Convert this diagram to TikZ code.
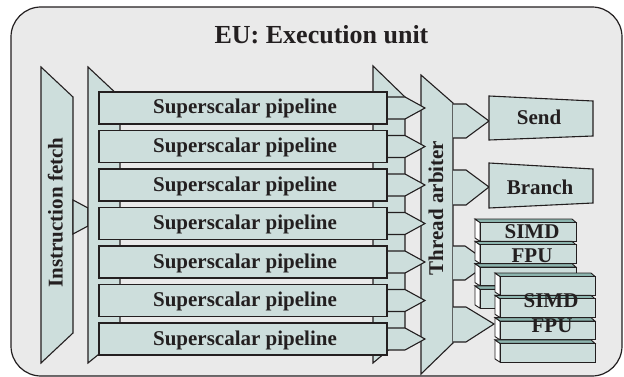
\documentclass[tikz,border=0pt]{standalone}
\usepackage{fontspec}
\setmainfont{Liberation Serif}
\definecolor{tealA}{HTML}{CDDEDC}
\definecolor{tealB}{HTML}{8CB4AE}
\definecolor{bgray}{HTML}{EAEAEA}
\definecolor{ink}{HTML}{231F20}
\begin{document}
\begin{tikzpicture}[x=1pt,y=-1pt,line join=miter,
  shp/.style={draw=ink,fill=tealA,line width=1.1pt},
  thin/.style={draw=ink,line width=0.9pt},
  lbl/.style={font=\bfseries\fontsize{21}{23}\selectfont,text=ink,inner sep=0pt},
  ttl/.style={font=\bfseries\fontsize{26}{28}\selectfont,text=ink,inner sep=0pt}]
\useasboundingbox (0,0) rectangle (624,377);
% frame
\draw[draw=ink,fill=bgray,line width=1.2pt,rounded corners=30pt] (11,7) rectangle (622,376);
\node[ttl,anchor=base] (title) at (321.5,44) {EU: Execution unit};
% instruction fetch
\draw[shp] (41,67) -- (73,97) -- (73,333) -- (41,363) -- cycle;
\node[lbl,rotate=90,anchor=base] (fetch) at (62.5,212.5) {Instruction fetch};
\draw[shp] (73,200) -- (88,208) -- (88,226) -- (73,234) -- cycle;
% distribution bar and collector bar
\draw[shp] (88,67) -- (120,97) -- (120,337) -- (88,363) -- cycle;
\draw[shp] (373,66) -- (405,97) -- (405,336) -- (373,363) -- cycle;
% thread arbiter
\draw[shp] (421,75) -- (453,103) -- (453,343) -- (421,374) -- cycle;
\node[lbl,rotate=90,anchor=base] (arb) at (443,208) {Thread arbiter};
% pipelines with arrows
\foreach \c [count=\i] in {108,146.5,185,223.5,262,300.5,339} {
  \draw[shp] (387,\c-11) -- (405,\c-11) -- (425,\c) -- (405,\c+11) -- (387,\c+11) -- cycle;
  \draw[shp] (99,\c-16) rectangle (387,\c+16);
  \node[lbl,anchor=base] (pipe\i) at (245,\c+6) {Superscalar pipeline};
}
% output arrows
\draw[shp] (453,104) -- (466,104) -- (489,121) -- (466,138) -- (453,138);
\draw[shp] (453,170) -- (466,170) -- (489,187) -- (466,205) -- (453,205);
% Send and Branch
\draw[shp] (489,96) -- (593,101) -- (593,136) -- (489,140) -- cycle;
\node[lbl,anchor=base] (send) at (539,125) {Send};
\draw[shp] (489,163) -- (593,169) -- (593,203) -- (489,208) -- cycle;
\node[lbl,anchor=base] (branch) at (540,194) {Branch};
% SIMD stack 1
\draw[shp] (453,246) -- (465,246) -- (489,263) -- (465,280) -- (453,280);
\foreach \y in {219,241.3,263.6,285.9} {
  \draw[thin,fill=white] (475,\y) -- (480,\y+3.5) -- (480,\y+22.3) -- (475,\y+19) -- cycle;
  \draw[thin,fill=tealB] (475,\y) -- (572,\y) -- (576,\y+3.5) -- (480,\y+3.5) -- cycle;
  \draw[thin,fill=tealA] (480,\y+3.5) rectangle (576,\y+22.3);
}
\node[lbl,anchor=base] (simdA) at (532,238) {SIMD};
\node[lbl,anchor=base] (fpuA) at (532,262) {FPU};
% SIMD stack 2
\draw[shp] (453,307) -- (466,307) -- (494,324) -- (466,342) -- (453,342);
\foreach \y in {273,295.3,317.6,339.9} {
  \draw[thin,fill=white] (495,\y) -- (500,\y+3.5) -- (500,\y+22.3) -- (495,\y+19) -- cycle;
  \draw[thin,fill=tealB] (495,\y) -- (591,\y) -- (595,\y+3.5) -- (500,\y+3.5) -- cycle;
  \draw[thin,fill=tealA] (500,\y+3.5) rectangle (595,\y+22.3);
}
\node[lbl,anchor=base] (simdB) at (551,307) {SIMD};
\node[lbl,anchor=base] (fpuB) at (552,332) {FPU};
\end{tikzpicture}
\end{document}
